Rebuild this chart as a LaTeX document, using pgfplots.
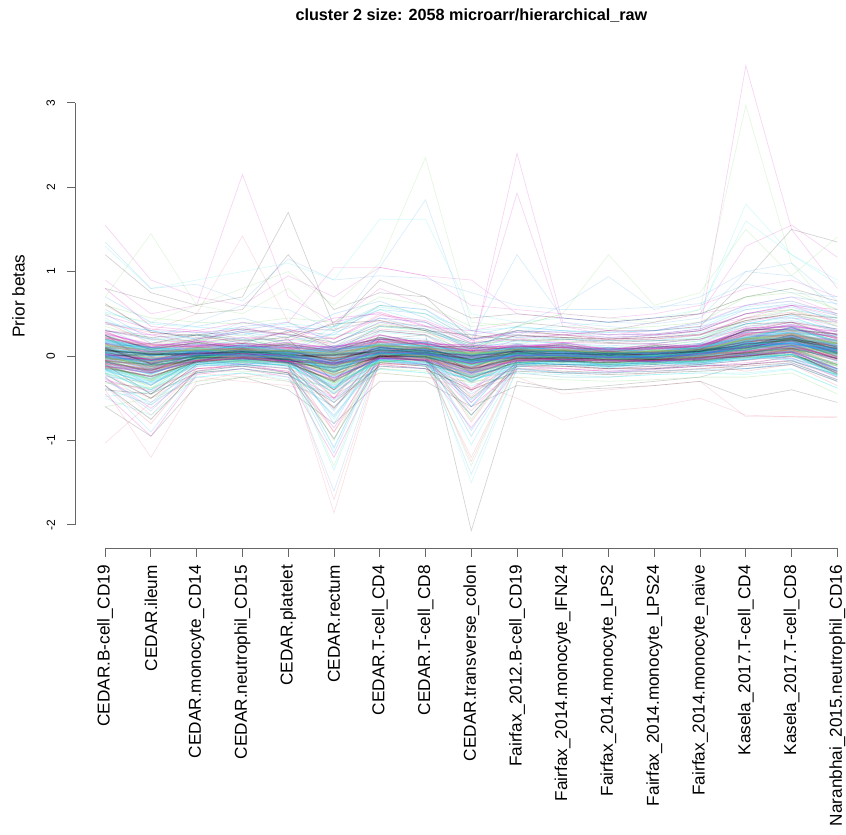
\documentclass[border=0pt]{standalone}
\usepackage{pgfplots}
\usepackage{pgfplotstable}
\pgfplotsset{compat=1.18}
\usepackage{fontspec}
\setmainfont{Liberation Sans}
\definecolor{Rblack}{HTML}{000000}
\definecolor{Rred}{HTML}{DF536B}
\definecolor{Rgreen}{HTML}{61D04F}
\definecolor{Rblue}{HTML}{2297E6}
\definecolor{Rcyan}{HTML}{28E2E5}
\definecolor{Rmag}{HTML}{CD0BBC}

% core lines (one row per line, 17 categories)
\pgfplotstableread[header=false]{
0.05 -0.06 0.07 0.02 0.04 -0.10 0.11 0.01 -0.02 0.06 -0.03 0.03 -0.02 0.08 0.10 0.24 0.03
-0.06 -0.10 -0.07 0.05 -0.08 -0.14 -0.02 0.03 -0.17 0.01 -0.05 -0.01 -0.07 0.04 0.03 0.13 -0.03
0.13 0.01 0.09 0.03 0.08 -0.02 0.16 0.05 0.06 0.03 0.09 -0.01 0.07 0.05 0.24 0.22 0.18
-0.12 -0.27 -0.02 -0.06 -0.03 -0.21 -0.08 -0.01 -0.24 -0.02 -0.08 -0.03 -0.09 0.00 -0.02 0.09 -0.10
0.19 0.10 0.06 0.13 0.03 0.12 0.11 0.16 0.00 0.14 0.04 0.09 0.02 0.13 0.19 0.34 0.15
0.01 -0.03 -0.02 0.04 -0.05 -0.07 0.00 0.06 -0.12 0.04 -0.04 0.01 -0.04 0.05 0.07 0.19 0.00
0.09 -0.05 0.06 0.02 0.07 -0.05 0.12 0.02 0.02 0.01 0.07 -0.02 0.05 0.03 0.20 0.19 0.14
-0.16 -0.34 -0.05 -0.10 -0.06 -0.37 -0.02 -0.10 -0.23 -0.11 -0.03 -0.12 -0.05 -0.09 0.03 -0.03 -0.18
0.24 0.08 0.16 0.09 0.14 0.06 0.22 0.11 0.11 0.08 0.14 0.04 0.12 0.08 0.31 0.31 0.26
0.03 -0.01 -0.02 0.07 -0.03 -0.02 0.02 0.05 -0.10 0.05 -0.02 0.02 -0.05 0.06 0.09 0.21 0.02
-0.02 -0.14 0.02 -0.01 0.02 -0.17 0.05 -0.02 -0.06 -0.04 0.03 -0.06 0.01 -0.02 0.12 0.10 0.05
0.07 0.05 0.02 0.07 -0.01 0.04 0.04 0.09 -0.04 0.08 0.00 0.04 -0.01 0.07 0.11 0.23 0.06
-0.08 -0.22 -0.01 -0.05 -0.02 -0.17 -0.05 0.01 -0.20 -0.01 -0.06 -0.02 -0.07 0.01 0.01 0.11 -0.16
0.15 0.03 0.11 0.06 0.09 0.01 0.17 0.07 0.07 0.05 0.11 0.01 0.09 0.06 0.25 0.24 0.19
0.00 -0.08 0.01 0.00 0.05 -0.13 0.09 0.01 0.00 -0.03 0.05 -0.03 0.02 -0.01 0.13 0.11 0.07
0.04 -0.05 -0.01 0.04 -0.06 -0.10 0.00 0.03 -0.14 0.06 -0.05 0.00 -0.03 0.07 0.09 0.22 0.04
0.10 -0.07 0.03 0.09 0.00 0.01 0.07 0.10 -0.06 0.08 0.02 0.06 0.00 0.10 0.15 0.27 0.09
-0.04 -0.20 0.00 -0.05 0.01 -0.23 0.03 -0.01 -0.10 -0.05 0.00 -0.07 0.00 -0.04 0.09 0.06 0.03
0.17 0.08 0.04 0.14 0.06 0.08 0.13 0.16 0.02 0.12 0.06 0.10 0.04 0.14 0.21 0.34 0.17
-0.20 -0.40 -0.08 -0.12 -0.09 -0.44 -0.05 -0.12 -0.28 -0.13 -0.05 -0.14 -0.07 -0.11 0.00 -0.05 -0.23
0.28 0.11 0.18 0.11 0.16 0.09 0.25 0.14 0.13 0.10 0.16 0.07 0.14 0.11 0.33 0.35 0.29
0.02 0.01 0.07 -0.01 0.04 -0.09 0.07 0.00 -0.09 0.04 0.06 -0.02 0.03 0.00 0.16 0.14 0.08
-0.01 -0.12 -0.03 0.03 -0.04 -0.08 -0.01 0.04 -0.05 -0.02 -0.03 0.01 -0.05 0.04 0.07 0.18 -0.01
0.06 -0.04 0.05 0.02 0.05 -0.06 0.10 0.02 0.01 0.02 0.05 -0.02 0.04 0.02 0.18 0.17 0.12
-0.10 -0.29 -0.04 -0.08 -0.05 -0.32 -0.07 -0.03 -0.18 -0.09 -0.02 -0.10 -0.04 -0.07 0.04 0.00 -0.12
0.11 0.07 0.04 0.10 0.02 0.06 0.08 0.12 -0.01 0.10 0.03 0.06 0.01 0.10 0.16 0.29 0.10
0.04 -0.15 0.04 -0.01 0.03 -0.20 0.09 -0.02 -0.06 -0.01 0.04 -0.05 0.02 -0.01 0.14 0.12 0.08
-0.05 -0.02 -0.06 0.03 -0.07 -0.04 -0.03 0.02 -0.09 0.01 -0.06 -0.01 -0.06 0.03 0.05 0.15 -0.04
0.20 0.05 0.14 0.08 0.12 0.03 0.20 0.09 0.09 0.07 0.12 0.02 0.10 0.07 0.28 0.27 0.24
0.00 0.02 0.00 0.06 -0.02 0.01 0.03 0.07 -0.07 0.05 -0.01 0.03 -0.03 0.06 0.10 0.20 0.03
-0.13 -0.16 -0.08 -0.01 -0.09 -0.28 0.02 -0.07 -0.22 -0.03 -0.07 -0.04 -0.08 -0.01 -0.01 0.08 -0.19
0.08 -0.03 0.08 0.03 0.06 -0.03 0.13 0.03 0.03 0.02 0.07 0.00 0.06 0.03 0.21 0.18 0.15
-0.03 -0.16 0.01 -0.03 0.01 -0.18 0.04 -0.03 -0.08 -0.04 0.01 -0.05 0.00 -0.03 0.11 0.08 0.04
0.14 0.10 0.05 0.12 0.04 0.09 0.10 0.13 0.01 0.11 0.05 0.08 0.03 0.11 0.18 0.31 0.13
0.02 -0.08 0.05 0.00 0.03 -0.12 0.07 0.01 -0.02 0.00 0.04 -0.02 0.03 0.00 0.15 0.13 0.09
-0.07 -0.19 -0.06 0.02 -0.07 -0.24 -0.04 0.01 -0.19 0.00 -0.07 -0.01 -0.07 0.02 0.02 0.12 -0.06
0.06 0.03 0.01 0.08 0.00 0.02 0.05 0.09 -0.05 0.07 0.01 0.05 -0.01 0.08 0.12 0.25 0.07
-0.02 -0.04 0.03 -0.02 0.03 -0.06 0.06 -0.01 -0.01 -0.02 0.03 -0.03 0.01 -0.02 0.12 0.09 0.06
0.10 -0.01 0.10 0.04 0.07 0.00 0.14 0.04 0.04 0.03 0.08 0.01 0.07 0.04 0.22 0.20 0.16
0.03 -0.12 -0.03 0.05 -0.04 -0.15 0.01 0.04 -0.12 0.03 -0.04 0.01 -0.04 0.05 0.06 0.17 0.01
0.08 0.02 -0.03 0.05 0.02 -0.12 0.06 0.07 -0.11 0.03 0.04 -0.03 0.00 0.05 0.16 0.14 0.10
-0.09 -0.18 0.04 0.00 -0.06 -0.09 -0.03 -0.04 -0.15 -0.06 -0.01 -0.05 -0.06 -0.03 0.05 0.12 -0.02
0.16 0.06 0.05 0.10 0.03 0.07 0.14 0.08 -0.02 0.09 0.03 0.05 0.02 0.09 0.22 0.28 0.12
-0.14 -0.24 -0.07 -0.03 -0.08 -0.30 0.00 -0.06 -0.26 -0.07 -0.06 -0.08 -0.04 -0.05 0.00 0.04 -0.21
0.21 0.13 0.11 0.08 0.10 0.05 0.17 0.13 0.07 0.11 0.10 0.06 0.08 0.12 0.27 0.30 0.22
-0.01 -0.11 -0.04 0.06 0.03 -0.15 0.07 0.00 -0.04 0.03 -0.02 0.00 0.01 0.02 0.12 0.20 0.04
0.04 0.04 0.03 -0.01 -0.02 -0.04 0.02 0.05 -0.08 -0.01 0.02 0.02 -0.03 0.04 0.08 0.16 0.07
-0.18 -0.31 -0.10 -0.07 -0.11 -0.38 -0.04 -0.08 -0.30 -0.09 -0.09 -0.10 -0.09 -0.07 -0.04 0.02 -0.24
0.26 0.14 0.13 0.15 0.12 0.11 0.20 0.17 0.09 0.13 0.12 0.09 0.10 0.13 0.29 0.37 0.25
0.00 -0.06 0.06 0.01 0.01 -0.10 0.04 0.02 -0.06 0.02 0.00 -0.02 0.00 0.01 0.14 0.15 0.05
0.09 -0.09 0.00 0.04 0.06 -0.06 0.10 0.06 0.00 0.06 0.06 0.03 0.04 0.06 0.17 0.21 0.11
-0.05 -0.13 -0.05 0.02 -0.03 -0.11 0.01 -0.03 -0.13 -0.03 -0.04 -0.04 -0.05 0.01 0.06 0.10 0.00
0.12 0.03 0.08 0.07 0.05 0.02 0.12 0.10 0.03 0.07 0.07 0.04 0.05 0.07 0.19 0.25 0.14
-0.11 -0.21 -0.03 -0.04 -0.04 -0.26 -0.02 -0.05 -0.21 -0.05 -0.05 -0.06 -0.06 -0.03 0.02 0.06 -0.17
0.18 0.09 0.09 0.11 0.07 0.04 0.15 0.12 0.05 0.10 0.09 0.07 0.07 0.10 0.23 0.32 0.18
0.02 -0.04 0.02 0.03 0.00 -0.08 0.05 0.04 -0.09 0.00 0.01 -0.01 -0.02 0.03 0.11 0.18 0.06
0.06 0.00 0.04 0.05 0.04 -0.01 0.08 0.05 -0.03 0.04 0.03 0.02 0.03 0.04 0.15 0.20 0.08
-0.07 -0.17 -0.02 -0.02 -0.04 -0.19 0.00 -0.01 -0.15 -0.03 -0.02 -0.04 -0.04 -0.02 0.04 0.09 -0.03
0.14 0.05 0.07 0.09 0.05 0.04 0.12 0.10 0.04 0.08 0.07 0.05 0.05 0.08 0.20 0.26 0.15
-0.03 -0.07 -0.01 0.01 -0.02 -0.12 0.02 0.01 -0.10 -0.01 -0.01 -0.03 -0.03 0.00 0.09 0.13 0.02
0.10 0.01 0.06 0.06 0.05 0.01 0.10 0.07 0.01 0.06 0.05 0.03 0.04 0.06 0.18 0.23 0.12
-0.16 -0.27 -0.08 -0.05 -0.08 -0.34 -0.05 -0.07 -0.25 -0.08 -0.07 -0.09 -0.07 -0.06 -0.02 0.02 -0.22
0.22 0.10 0.12 0.12 0.10 0.08 0.18 0.14 0.06 0.11 0.10 0.07 0.09 0.11 0.26 0.33 0.21
0.01 -0.10 0.00 0.02 -0.01 -0.14 0.03 0.02 -0.08 0.01 0.00 -0.01 -0.01 0.02 0.10 0.16 0.04
0.07 0.02 0.03 0.05 0.02 -0.03 0.07 0.04 -0.04 0.03 0.03 0.01 0.02 0.05 0.14 0.19 0.09
-0.09 -0.15 -0.06 -0.01 -0.06 -0.22 -0.01 -0.04 -0.18 -0.04 -0.04 -0.06 -0.05 -0.02 0.03 0.07 -0.05
0.13 0.07 0.06 0.08 0.06 0.03 0.13 0.09 0.02 0.08 0.06 0.04 0.06 0.07 0.20 0.27 0.15
-0.02 -0.05 0.02 0.01 0.00 -0.07 0.03 0.03 -0.06 0.01 0.01 -0.01 -0.01 0.02 0.11 0.15 0.05
0.05 -0.03 0.01 0.04 0.02 -0.05 0.06 0.04 -0.05 0.03 0.02 0.00 0.01 0.04 0.13 0.18 0.07
-0.12 -0.20 -0.05 -0.03 -0.06 -0.26 -0.03 -0.05 -0.20 -0.05 -0.04 -0.06 -0.06 -0.04 0.01 0.05 -0.15
}\Craw
\pgfplotstabletranspose{\Ct}{\Craw}

% spread ("haze") lines
\pgfplotstableread[header=false]{
0.35 0.20 0.18 0.25 0.15 0.22 0.38 0.30 0.12 0.20 0.18 0.15 0.14 0.22 0.42 0.50 0.38
-0.30 -0.55 -0.12 -0.10 -0.15 -0.70 -0.05 -0.10 -0.45 -0.12 -0.10 -0.15 -0.12 -0.10 -0.05 0.02 -0.20
0.45 0.15 0.22 0.30 0.25 0.10 0.45 0.40 0.05 0.25 0.22 0.18 0.20 0.28 0.40 0.55 0.45
-0.25 -0.62 -0.18 -0.08 -0.20 -0.85 -0.02 -0.05 -0.60 -0.15 -0.18 -0.20 -0.16 -0.12 -0.08 -0.02 -0.25
0.55 0.30 0.28 0.25 0.35 0.30 0.55 0.50 0.20 0.28 0.30 0.25 0.26 0.32 0.55 0.62 0.50
-0.40 -0.45 -0.20 -0.15 -0.22 -0.55 -0.12 -0.15 -0.40 -0.18 -0.20 -0.22 -0.20 -0.18 -0.15 -0.10 -0.30
0.30 0.05 0.12 0.15 0.10 -0.15 0.30 0.25 -0.10 0.12 0.10 0.08 0.10 0.15 0.35 0.40 0.25
-0.20 -0.35 -0.05 -0.02 -0.08 -1.00 0.10 0.05 -0.75 -0.05 -0.06 -0.08 -0.06 -0.02 0.05 0.10 -0.10
0.70 0.40 0.35 0.45 0.30 0.25 0.60 0.55 0.25 0.35 0.30 0.28 0.30 0.38 0.60 0.70 0.62
-0.50 -0.70 -0.25 -0.20 -0.28 -0.60 -0.15 -0.20 -0.35 -0.20 -0.25 -0.25 -0.22 -0.20 -0.20 -0.15 -0.38
0.40 0.25 0.30 0.20 0.28 0.45 0.50 0.35 0.30 0.22 0.25 0.20 0.22 0.25 0.45 0.45 0.40
-0.15 -0.25 -0.10 -0.05 -0.12 -1.15 0.05 0.02 -0.95 -0.08 -0.10 -0.10 -0.08 -0.06 0.00 0.05 -0.15
0.25 -0.10 0.05 0.10 0.20 -0.30 0.25 0.15 -0.20 0.08 0.05 0.02 0.05 0.10 0.30 0.35 0.20
-0.35 -0.80 -0.15 -0.12 -0.18 -0.90 -0.08 -0.12 -0.65 -0.10 -0.12 -0.15 -0.14 -0.10 -0.05 0.00 -0.18
0.60 0.45 0.40 0.38 0.45 0.40 0.70 0.60 0.35 0.40 0.35 0.32 0.35 0.40 0.70 0.75 0.55
-0.05 -0.20 0.00 0.05 -0.05 -0.65 0.12 0.10 -0.55 0.02 0.00 -0.02 0.00 0.05 0.15 0.25 0.05
0.20 0.10 0.15 0.22 0.05 0.35 0.55 0.40 0.15 0.18 0.15 0.10 0.12 0.18 0.32 0.45 0.30
-0.45 -0.95 -0.22 -0.15 -0.25 -1.20 -0.10 -0.15 -0.85 -0.15 -0.15 -0.18 -0.18 -0.15 -0.12 -0.08 -0.28
0.50 0.20 0.25 0.35 0.40 0.15 0.40 0.35 0.10 0.30 0.28 0.22 0.24 0.30 0.50 0.58 0.42
-0.10 -0.45 -0.05 0.00 -0.05 -0.40 0.00 0.00 -0.30 -0.05 -0.06 -0.10 -0.08 -0.05 0.02 0.08 -0.12
0.15 -0.20 0.10 0.08 0.05 -0.50 0.20 0.15 -0.40 0.05 0.02 0.00 0.02 0.08 0.25 0.30 0.12
-0.60 -0.50 -0.30 -0.25 -0.30 -0.45 -0.20 -0.25 -0.30 -0.25 -0.28 -0.30 -0.28 -0.25 -0.25 -0.20 -0.45
0.38 0.30 0.20 0.28 0.22 0.50 0.65 0.45 0.20 0.25 0.20 0.18 0.18 0.25 0.38 0.48 0.35
-0.20 -0.58 -0.10 -0.08 -0.10 -1.35 0.02 -0.02 -1.05 -0.10 -0.12 -0.12 -0.10 -0.08 -0.04 0.02 -0.18
0.80 0.35 0.30 0.40 0.32 0.20 0.45 0.40 0.18 0.30 0.28 0.25 0.26 0.32 0.50 0.60 0.55
-0.05 -0.35 0.02 0.08 0.00 -0.80 0.10 0.08 -0.60 0.00 -0.02 -0.05 -0.02 0.02 0.12 0.18 0.02
0.10 0.15 0.25 0.15 0.30 0.10 0.20 0.18 0.05 0.12 0.10 0.08 0.10 0.12 0.30 0.40 0.22
-0.30 -0.40 -0.15 -0.10 -0.15 -0.35 -0.10 -0.10 -0.25 -0.10 -0.12 -0.15 -0.12 -0.10 -0.18 -0.10 -0.35
0.20 0.00 0.10 0.15 0.12 0.05 0.35 0.30 0.00 0.10 0.12 0.10 0.12 0.18 0.45 0.55 0.35
-0.15 -0.30 -0.08 -0.05 -0.06 -0.55 0.00 -0.02 -0.70 -0.08 -0.05 -0.08 -0.06 -0.04 0.00 0.06 -0.10
0.42 0.18 0.25 0.20 0.18 0.25 0.30 0.28 0.15 0.22 0.20 0.18 0.18 0.22 0.38 0.48 0.40
-0.28 -0.42 -0.15 -0.12 -0.18 -0.50 -0.08 -0.10 -0.38 -0.12 -0.15 -0.18 -0.15 -0.12 -0.10 -0.05 -0.25
0.32 0.10 0.18 0.28 0.12 0.05 0.35 0.32 0.08 0.18 0.15 0.12 0.15 0.20 0.35 0.42 0.32
-0.22 -0.50 -0.10 -0.06 -0.12 -0.62 -0.02 -0.05 -0.50 -0.08 -0.10 -0.12 -0.10 -0.06 -0.02 0.02 -0.18
0.38 0.28 0.22 0.18 0.28 0.32 0.42 0.35 0.22 0.25 0.22 0.20 0.20 0.25 0.45 0.52 0.42
-0.32 -0.38 -0.18 -0.18 -0.20 -0.42 -0.15 -0.18 -0.32 -0.15 -0.18 -0.20 -0.18 -0.15 -0.12 -0.08 -0.28
0.25 0.00 0.10 0.12 0.08 -0.10 0.22 0.20 -0.05 0.10 0.08 0.05 0.08 0.12 0.30 0.36 0.22
-0.12 -0.30 -0.02 0.00 -0.05 -0.75 0.08 0.05 -0.60 -0.02 -0.04 -0.06 -0.04 0.00 0.06 0.12 -0.06
0.48 0.32 0.28 0.32 0.25 0.20 0.48 0.42 0.20 0.28 0.25 0.22 0.25 0.30 0.50 0.60 0.48
-0.38 -0.58 -0.20 -0.15 -0.22 -0.52 -0.12 -0.15 -0.28 -0.16 -0.20 -0.20 -0.18 -0.16 -0.15 -0.10 -0.30
0.30 0.22 0.26 0.18 0.22 0.38 0.42 0.30 0.25 0.18 0.20 0.16 0.18 0.20 0.38 0.40 0.32
-0.10 -0.20 -0.06 -0.02 -0.08 -0.90 0.05 0.02 -0.78 -0.05 -0.06 -0.08 -0.06 -0.04 0.02 0.06 -0.10
0.22 -0.05 0.06 0.10 0.15 -0.22 0.20 0.12 -0.15 0.06 0.05 0.03 0.05 0.08 0.25 0.30 0.18
-0.26 -0.65 -0.12 -0.10 -0.14 -0.72 -0.06 -0.10 -0.52 -0.08 -0.10 -0.12 -0.12 -0.08 -0.04 0.00 -0.15
0.52 0.38 0.34 0.32 0.38 0.34 0.58 0.50 0.30 0.34 0.30 0.28 0.30 0.34 0.58 0.65 0.48
-0.02 -0.15 0.02 0.05 -0.02 -0.50 0.10 0.08 -0.42 0.02 0.00 -0.02 0.00 0.04 0.12 0.20 0.04
0.18 0.08 0.12 0.18 0.05 0.28 0.45 0.32 0.12 0.15 0.12 0.08 0.10 0.15 0.28 0.38 0.25
-0.35 -0.75 -0.18 -0.12 -0.20 -0.98 -0.08 -0.12 -0.70 -0.12 -0.12 -0.15 -0.15 -0.12 -0.10 -0.06 -0.22
0.40 0.15 0.20 0.28 0.32 0.12 0.32 0.28 0.08 0.25 0.22 0.18 0.20 0.25 0.42 0.50 0.36
-0.08 -0.38 -0.04 0.00 -0.04 -0.32 0.00 0.00 -0.25 -0.04 -0.05 -0.08 -0.06 -0.04 0.02 0.06 -0.10
0.12 -0.15 0.08 0.06 0.04 -0.40 0.16 0.12 -0.32 0.04 0.02 0.00 0.02 0.06 0.22 0.26 0.10
-0.48 -0.42 -0.25 -0.20 -0.25 -0.38 -0.16 -0.20 -0.25 -0.20 -0.22 -0.25 -0.22 -0.20 -0.22 -0.16 -0.38
0.30 0.25 0.16 0.22 0.18 0.40 0.52 0.36 0.16 0.20 0.16 0.15 0.15 0.20 0.32 0.40 0.30
-0.16 -0.45 -0.08 -0.06 -0.08 -1.08 0.02 -0.02 -0.88 -0.08 -0.10 -0.10 -0.08 -0.06 -0.03 0.02 -0.15
0.62 0.28 0.24 0.32 0.26 0.16 0.36 0.32 0.14 0.24 0.22 0.20 0.22 0.26 0.42 0.50 0.45
-0.04 -0.28 0.02 0.06 0.00 -0.62 0.08 0.06 -0.48 0.00 -0.02 -0.04 -0.02 0.02 0.10 0.15 0.02
0.08 0.12 0.20 0.12 0.24 0.08 0.16 0.15 0.04 0.10 0.08 0.06 0.08 0.10 0.25 0.34 0.18
-0.24 -0.32 -0.12 -0.08 -0.12 -0.28 -0.08 -0.08 -0.20 -0.08 -0.10 -0.12 -0.10 -0.08 -0.15 -0.08 -0.28
0.16 0.00 0.08 0.12 0.10 0.04 0.28 0.24 0.00 0.08 0.10 0.08 0.10 0.15 0.38 0.46 0.28
-0.12 -0.25 -0.06 -0.04 -0.05 -0.45 0.00 -0.02 -0.55 -0.06 -0.04 -0.06 -0.05 -0.03 0.00 0.05 -0.08
}\Mraw
\pgfplotstabletranspose{\Mt}{\Mraw}

% outlying lines
\pgfplotstableread[header=false]{
0.10 0.05 0.05 0.08 0.05 0.00 0.12 0.10 0.00 0.10 0.15 0.20 0.25 0.30 3.44 1.50 0.80
0.20 0.10 0.10 0.15 0.10 0.05 0.20 0.15 0.05 0.15 0.20 0.30 0.40 0.55 2.97 1.10 0.45
0.15 0.10 0.20 0.30 0.25 0.10 0.30 0.25 0.00 2.40 0.40 0.30 0.25 0.30 0.40 0.50 0.30
0.30 0.20 0.15 0.35 0.20 0.15 0.40 0.30 0.10 1.93 0.35 0.25 0.30 0.35 0.45 0.60 0.40
0.40 0.30 0.20 0.40 0.30 0.35 0.60 0.55 0.20 1.20 0.45 0.40 0.38 0.45 1.00 0.95 0.60
0.90 0.50 0.60 2.15 0.70 0.40 0.80 0.60 0.30 0.40 0.35 0.30 0.30 0.40 0.60 0.70 0.50
0.60 0.30 0.50 1.42 0.40 0.20 0.50 0.40 0.15 0.30 0.25 0.20 0.22 0.30 0.50 0.55 0.40
0.50 0.40 0.60 0.80 1.00 0.60 1.10 2.35 0.40 0.35 0.50 0.45 0.40 0.50 0.70 0.80 0.55
0.30 0.20 0.40 0.60 0.55 0.30 1.05 1.85 0.30 0.25 0.40 0.35 0.30 0.40 0.55 0.60 0.45
1.30 0.80 0.90 1.00 1.10 0.90 1.62 1.62 0.50 0.40 0.45 0.40 0.45 0.50 1.80 1.20 0.90
1.20 0.75 0.60 0.70 1.70 0.35 0.90 0.70 0.20 0.30 0.25 0.30 0.30 0.35 0.90 1.50 1.35
-0.40 -1.20 -0.30 -0.20 -0.30 -0.60 -0.10 -0.15 -0.40 -0.20 -0.25 -0.25 -0.20 -0.15 -0.10 -0.05 -0.30
-1.03 -0.55 -0.25 -0.30 -0.35 -0.50 -0.20 -0.25 -0.40 -0.25 -0.45 -0.40 -0.35 -0.30 -0.72 -0.72 -0.72
-0.20 -0.50 -0.10 -0.05 -0.10 -1.86 -0.05 -0.05 -1.25 -0.10 -0.20 -0.15 -0.15 -0.10 -0.05 0.00 -0.20
0.05 -0.10 0.00 0.05 0.00 -0.40 0.20 0.25 -2.07 -0.30 -0.40 -0.35 -0.30 -0.25 -0.10 0.00 -0.10
-0.35 -0.90 -0.20 -0.10 -0.20 -1.60 0.00 -0.05 -1.40 -0.15 -0.20 -0.20 -0.15 -0.10 -0.05 0.05 -0.15
0.70 1.45 0.60 0.50 0.80 0.30 0.60 0.50 0.20 0.30 0.25 0.20 0.25 0.30 0.50 0.55 0.45
1.55 0.90 0.70 0.60 0.95 0.70 1.05 0.95 0.60 0.55 0.50 0.45 0.50 0.60 0.80 0.90 0.70
1.35 0.80 0.85 0.65 1.15 0.90 0.95 0.92 0.75 0.60 0.55 0.55 0.58 0.62 0.85 0.75 0.70
-0.30 -0.50 -0.20 -0.25 -0.20 -0.40 -0.15 -0.10 -0.30 -0.50 -0.76 -0.65 -0.60 -0.50 -0.70 -0.72 -0.73
0.20 0.10 0.15 0.20 0.10 0.05 0.30 0.25 0.05 0.35 0.50 1.20 0.60 0.75 1.50 0.95 1.41
0.10 0.05 0.10 0.15 0.05 0.00 0.20 0.15 0.00 0.20 0.25 0.30 0.40 0.50 1.30 1.55 1.17
0.25 0.10 0.20 0.30 0.15 0.10 0.35 0.30 0.10 0.30 0.35 0.40 0.45 0.55 1.60 1.20 0.85
-0.60 -0.95 -0.35 -0.25 -0.40 -0.80 -0.30 -0.30 -0.60 -0.35 -0.40 -0.38 -0.35 -0.30 -0.50 -0.40 -0.55
-0.10 -0.40 0.00 0.05 -0.05 -1.10 0.10 0.05 -1.50 -0.15 -0.20 -0.18 -0.15 -0.10 0.00 0.05 -0.10
0.80 0.65 0.50 0.55 1.20 0.55 0.75 0.70 0.45 0.50 0.45 0.40 0.45 0.50 0.70 0.80 0.65
-0.25 -0.70 -0.15 -0.10 -0.15 -1.70 -0.05 -0.10 -1.20 -0.10 -0.15 -0.15 -0.12 -0.08 0.00 0.05 -0.15
-0.15 -0.45 -0.05 0.00 -0.10 -1.30 0.05 0.00 -1.30 -0.10 -0.10 -0.12 -0.10 -0.05 0.00 0.08 -0.10
0.15 0.05 0.10 0.20 0.10 0.10 0.30 0.25 0.05 0.35 0.60 0.94 0.55 0.70 1.00 1.10 0.65
0.10 -0.10 0.20 0.30 0.40 1.05 1.05 0.95 0.90 0.50 0.45 0.40 0.45 0.50 0.60 0.65 0.50
}\Oraw
\pgfplotstabletranspose{\Ot}{\Oraw}

\begin{document}
\begin{tikzpicture}[x=1pt,y=1pt]
\useasboundingbox (0,0) rectangle (846,835);
\node[font=\bfseries\fontsize{16.2}{16.2}\selectfont, anchor=base, inner sep=0pt] at (471.4,814.5) {cluster 2 size: 2058 microarr/hierarchical\_raw};
\node[font=\fontsize{17.2}{17.2}\selectfont, rotate=90, inner sep=0pt] at (18.5,539) {Prior betas};
\begin{axis}[
  at={(75.2pt,286.8pt)}, anchor=south west,
  scale only axis, width=771.3pt, height=504.6pt,
  xmin=0.345, xmax=17.2, ymin=-2.276, ymax=3.7,
  axis lines*=left,
  axis line style={draw=none},
  clip=false,
  xtick={1,...,17},
  xticklabels={CEDAR.B-cell\_CD19, CEDAR.ileum, CEDAR.monocyte\_CD14, CEDAR.neutrophil\_CD15, CEDAR.platelet, CEDAR.rectum, CEDAR.T-cell\_CD4, CEDAR.T-cell\_CD8, CEDAR.transverse\_colon, Fairfax\_2012.B-cell\_CD19, Fairfax\_2014.monocyte\_IFN24, Fairfax\_2014.monocyte\_LPS2, Fairfax\_2014.monocyte\_LPS24, Fairfax\_2014.monocyte\_naive, Kasela\_2017.T-cell\_CD4, Kasela\_2017.T-cell\_CD8, Naranbhai\_2015.neutrophil\_CD16},
  ytick=\empty,
  major tick length=0pt,
  tick style={draw=none},
  xticklabel shift=16.7pt,
  x tick label style={rotate=90, anchor=east, font=\fontsize{17.2}{17.2}\selectfont, inner sep=0pt},
  cycle list={{Rblack},{Rred},{Rgreen},{Rblue},{Rcyan},{Rmag},{Rblue}},
  every axis plot/.append style={no markers},
]
\newcommand{\op}[2]{\addplot[#1, opacity=0.17, line width=0.7pt] table[x expr=\coordindex+1, y index=#2] {\Ot};}
\op{Rmag}{1}\op{Rgreen}{2}\op{Rmag}{3}\op{Rmag}{4}\op{Rblue}{5}
\op{Rmag}{6}\op{Rred}{7}\op{Rgreen}{8}\op{Rblue}{9}\op{Rcyan}{10}
\op{Rblack}{11}\op{Rred}{12}\op{Rred}{13}\op{Rred}{14}\op{Rblack}{15}
\op{Rblue}{16}\op{Rgreen}{17}\op{Rmag}{18}\op{Rblue}{19}\op{Rred}{20}
\op{Rgreen}{21}\op{Rmag}{22}\op{Rcyan}{23}\op{Rblack}{24}\op{Rcyan}{25}
\op{Rblack}{26}\op{Rred}{27}\op{Rgreen}{28}\op{Rblue}{29}\op{Rmag}{30}
\pgfplotsinvokeforeach{1,...,60}{
  \addplot+[opacity=0.2, line width=0.8pt] table[x expr=\coordindex+1, y index=#1] {\Mt};
}
\pgfplotsinvokeforeach{1,...,70}{
  \addplot+[opacity=0.3, line width=1.3pt] table[x expr=\coordindex+1, y index=#1] {\Ct};
}
\draw[black!60, line width=0.9pt] (axis cs:1,-2.276) -- (axis cs:17,-2.276);
\draw[black!60, line width=0.9pt] (axis cs:0.345,-2) -- (axis cs:0.345,3);
\pgfplotsinvokeforeach{1,...,17}{
  \draw[black!60, line width=0.9pt] (axis cs:#1,-2.276) -- ++(0pt,-8.4pt);
}
\pgfplotsinvokeforeach{-2,...,3}{
  \draw[black!60, line width=0.9pt] (axis cs:0.345,#1) -- ++(-8.3pt,0pt);
  \path (axis cs:0.345,#1) ++(-19.9pt,0pt) node[rotate=90, anchor=south, inner sep=0pt, font=\fontsize{12}{12}\selectfont] {#1};
}
\end{axis}
\end{tikzpicture}
\end{document}
